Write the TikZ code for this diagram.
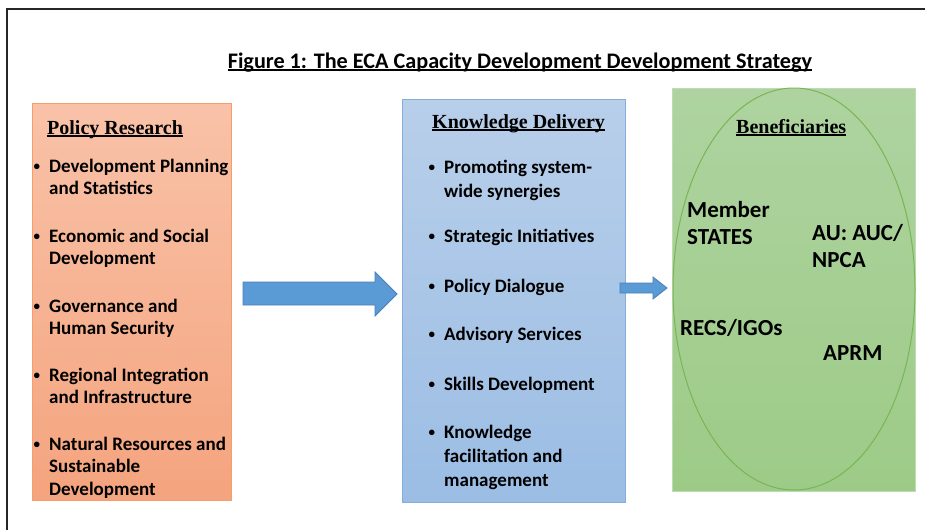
\documentclass[tikz,border=0pt]{standalone}
\usepackage{fontspec}
\setmainfont{Carlito}
\newfontfamily\headfont{Liberation Serif}
\usetikzlibrary{shapes.geometric}
\definecolor{orTop}{HTML}{F9C2A8}
\definecolor{orBot}{HTML}{F4A47E}
\definecolor{orLine}{HTML}{F59E6A}
\definecolor{blTop}{HTML}{B8CFEA}
\definecolor{blBot}{HTML}{9BBDE4}
\definecolor{blLine}{HTML}{86AEDC}
\definecolor{grTop}{HTML}{AED3A0}
\definecolor{grBot}{HTML}{9DCB87}
\definecolor{grLine}{HTML}{78B655}
\definecolor{arFill}{HTML}{5B9BD5}
\definecolor{arLine}{HTML}{4A7EBB}
\definecolor{frameC}{HTML}{262626}
\newsavebox\ulbox
\newcommand\uln[1]{\sbox\ulbox{#1}\usebox\ulbox\llap{\rule[-2.6pt]{\wd\ulbox}{1.2pt}}}
\newcommand\mylines[1]{\begin{tabular}[t]{@{}l@{}}#1\end{tabular}}
\newcommand\bul{\llap{\raisebox{1.5pt}{\fontsize{13}{13}\selectfont\textbullet}\hspace{9pt}}}
\tikzset{
  colbox/.style={inner sep=0pt, anchor=north west, line width=0.8pt},
  itemtxt/.style={inner sep=0pt, anchor=base west, font=\fontsize{19}{22.8}\selectfont\bfseries},
  itemtxtb/.style={inner sep=0pt, anchor=base west, font=\fontsize{19}{24.2}\selectfont\bfseries},
  headtxt/.style={inner sep=0pt, anchor=base west, font=\fontsize{20}{23}\selectfont\headfont\bfseries},
  bentxt/.style={inner sep=0pt, anchor=base west, font=\fontsize{23}{27.5}\selectfont\bfseries},
  blockarrow/.style={fill=arFill, draw=arLine, line width=0.8pt, line join=miter},
}
\begin{document}
\begin{tikzpicture}[x=1pt,y=-1pt]
\useasboundingbox (0,0) rectangle (925,530);
\fill[white] (0,0) rectangle (925,530);
% frame
\draw[frameC, line width=2.5pt] (7,530) -- (7,9) -- (925,9);
% title
\node[inner sep=0pt, anchor=base, font=\fontsize{22.2}{26}\selectfont\bfseries] (title) at (520,68) {\uln{Figure 1: The ECA Capacity Development Development Strategy}};
% boxes
\node[colbox, draw=orLine, top color=orTop, bottom color=orBot, minimum width=199pt, minimum height=397pt] (research) at (32,103) {};
\node[colbox, draw=blLine, top color=blTop, bottom color=blBot, minimum width=223pt, minimum height=403pt] (delivery) at (402,99) {};
\node[colbox, draw=grTop!80!white, top color=grTop, bottom color=grBot, minimum width=243pt, minimum height=403pt] (benef) at (672,88) {};
\node[ellipse, draw=grLine, line width=1pt, inner sep=0pt, minimum width=242pt, minimum height=402pt] (oval) at (794,289) {};
% arrows
\draw[blockarrow] (243,282) -- (375,282) -- (375,272) -- (397,294) -- (375,316) -- (375,305) -- (243,305) -- cycle;
\draw[blockarrow] (620,283) -- (653,283) -- (653,277) -- (667,288) -- (653,299) -- (653,293) -- (620,293) -- cycle;
% policy research
\node[headtxt] (hres) at (47,134) {\uln{Policy Research}};
\node[itemtxt] (r1) at (49,172) {\mylines{\bul Development Planning\\and Statistics}};
\node[itemtxt] (r2) at (49,242) {\mylines{\bul Economic and Social\\Development}};
\node[itemtxt] (r3) at (49,312) {\mylines{\bul Governance and\\Human Security}};
\node[itemtxt] (r4) at (49,381) {\mylines{\bul Regional Integration\\and Infrastructure}};
\node[itemtxt] (r5) at (49,450) {\mylines{\bul Natural Resources and\\Sustainable\\Development}};
% knowledge delivery
\node[headtxt] (hdel) at (432,128) {\uln{Knowledge Delivery}};
\node[itemtxtb] (d1) at (444,173) {\mylines{\bul Promoting system-\\wide synergies}};
\node[itemtxtb] (d2) at (444,242) {\mylines{\bul Strategic Initiatives}};
\node[itemtxtb] (d3) at (444,292) {\mylines{\bul Policy Dialogue}};
\node[itemtxtb] (d4) at (444,340) {\mylines{\bul Advisory Services}};
\node[itemtxtb] (d5) at (444,390) {\mylines{\bul Skills Development}};
\node[itemtxtb] (d6) at (444,438) {\mylines{\bul Knowledge\\facilitation and\\management}};
% beneficiaries
\node[headtxt] (hben) at (736,133) {\uln{Beneficiaries}};
\node[bentxt] (b1) at (687,217) {\mylines{Member\\STATES}};
\node[bentxt] (b2) at (812,240) {\mylines{AU: AUC/\\NPCA}};
\node[bentxt] (b3) at (680,335) {RECS/IGOs};
\node[bentxt] (b4) at (823,360) {APRM};
\end{tikzpicture}
\end{document}
